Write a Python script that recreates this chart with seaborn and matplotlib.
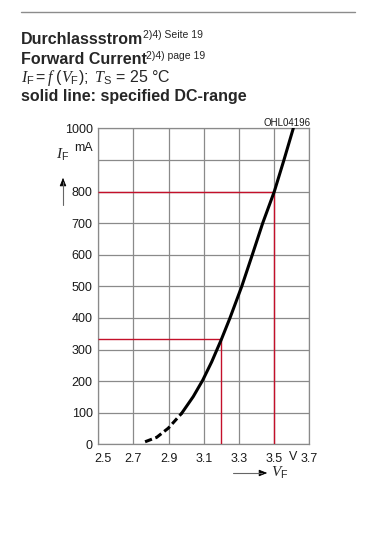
import numpy as np
import pandas as pd
import seaborn as sns
import matplotlib.pyplot as plt
from matplotlib.transforms import ScaledTranslation

# forward current curve
vf_dashed = [2.766, 2.832, 2.898, 2.974]
if_dashed = [8, 22, 51, 98]
vf_solid = [2.974, 3.040, 3.094, 3.145, 3.200, 3.249, 3.316, 3.376, 3.435, 3.501, 3.556, 3.609]
if_solid = [98, 151, 203, 261, 332, 400, 500, 600, 700, 800, 900, 1000]

# red operating point markers
op_v = [3.2, 3.5]
op_i = [333, 800]

x_ticks = [2.5, 2.7, 2.9, 3.1, 3.3, 3.5, 3.7]
x_labels = ['2.5', '2.7', '2.9', '3.1', '3.3', '3.5', '3.7']
y_ticks = [0, 100, 200, 300, 400, 500, 600, 700, 800, 900, 1000]
y_labels = ['0', '100', '200', '300', '400', '500', '600', '700', '800', '', '1000']

sns.set_style('white')
plt.rcParams['font.family'] = ['Liberation Sans', 'DejaVu Sans']
plt.rcParams['mathtext.fontset'] = 'custom'
plt.rcParams['mathtext.rm'] = 'Liberation Sans'
plt.rcParams['mathtext.it'] = 'Liberation Serif:italic'

W, H = 366, 534
fig = plt.figure(figsize=(W / 100, H / 100), dpi=100)


def px(x, y):
    return x / W, 1 - y / H


ax = fig.add_axes([98.3 / W, 1 - 444.3 / H, 211 / W, 316 / H])

grid_col = '#8a8a8a'
red = '#c4102a'

ax.hlines(op_i, 2.5, op_v, color=red, lw=1.0, zorder=3)
ax.vlines(op_v, 0, op_i, color=red, lw=1.0, zorder=3)

sns.lineplot(x=vf_dashed, y=if_dashed, color='black', lw=2.2, sort=False,
             linestyle=(0, (2.4, 1.2)), ax=ax, zorder=4)
sns.lineplot(x=vf_solid, y=if_solid, color='black', lw=2.2, sort=False,
             ax=ax, zorder=4)

ax.set_xlim(2.5, 3.7)
ax.set_ylim(0, 1000)
ax.set_xticks(x_ticks)
ax.set_xticklabels(x_labels)
ax.set_yticks(y_ticks)
ax.set_yticklabels(y_labels)
ax.tick_params(axis='both', length=0, labelsize=9, colors='#1a1a1a')
ax.tick_params(axis='x', pad=6)
ax.tick_params(axis='y', pad=4)
ax.grid(True, color=grid_col, lw=0.9)
ax.set_axisbelow(True)
for s in ax.spines.values():
    s.set_color(grid_col)
    s.set_linewidth(0.9)

# first x label sits a bit right of the axis
lab = ax.get_xticklabels()[0]
lab.set_transform(lab.get_transform() + ScaledTranslation(5 / 100, 0, fig.dpi_scale_trans))

# units and axis names
fig.text(*px(93, 147.5), 'mA', ha='right', va='center', fontsize=9, color='#1a1a1a')
fig.text(*px(293.5, 457), 'V', ha='center', va='center', fontsize=9, color='#1a1a1a')
fig.text(*px(56, 155), r'$I_\mathrm{F}$', ha='left', va='center', fontsize=11)
fig.text(*px(271, 473), r'$V_\mathrm{F}$', ha='left', va='center', fontsize=11)
fig.text(*px(310.7, 125.5), 'OHL04196', ha='right', va='baseline', fontsize=7, color='#1a1a1a')

fig.add_artist(plt.Line2D([63, 63], [H - 205, H - 182], transform=None, color='#666666', lw=0.8))
ax.annotate('', xy=px(63, 175), xycoords='figure fraction', xytext=px(63, 184),
            arrowprops=dict(arrowstyle='-|>,head_width=0.2,head_length=0.5', color='black', lw=0.6))
fig.add_artist(plt.Line2D([233, 262], [H - 473, H - 473], transform=None, color='#666666', lw=0.8))
ax.annotate('', xy=px(270, 473), xycoords='figure fraction', xytext=px(260, 473),
            arrowprops=dict(arrowstyle='-|>,head_width=0.2,head_length=0.5', color='black', lw=0.6))

# header
fig.add_artist(plt.Line2D([21, 355], [H - 12, H - 12], transform=None, color='#8c8c8c', lw=1.0))
t1 = fig.text(*px(21, 43.5), 'Durchlassstrom', fontsize=11.5, fontweight='bold', va='baseline')
ax.annotate('2)4) Seite 19', xy=(1, 1), xycoords=t1, xytext=(-0.3, 1), textcoords='offset points',
            fontsize=7.5, va='top', ha='left')
t2 = fig.text(*px(21, 64), 'Forward Current', fontsize=11.5, fontweight='bold', va='baseline')
ax.annotate('2)4) page 19', xy=(1, 1), xycoords=t2, xytext=(-0.3, 1), textcoords='offset points',
            fontsize=7.5, va='top', ha='left')
fig.text(*px(21, 81.5), r'$I_\mathrm{F} = f\ (V_\mathrm{F});\ T_\mathrm{S}$ = 25 °C', fontsize=11.5,
         va='baseline')
fig.text(*px(21, 101.5), 'solid line: specified DC-range', fontsize=11.5, fontweight='bold',
         va='baseline')

fig.savefig('out.png', dpi=100)
